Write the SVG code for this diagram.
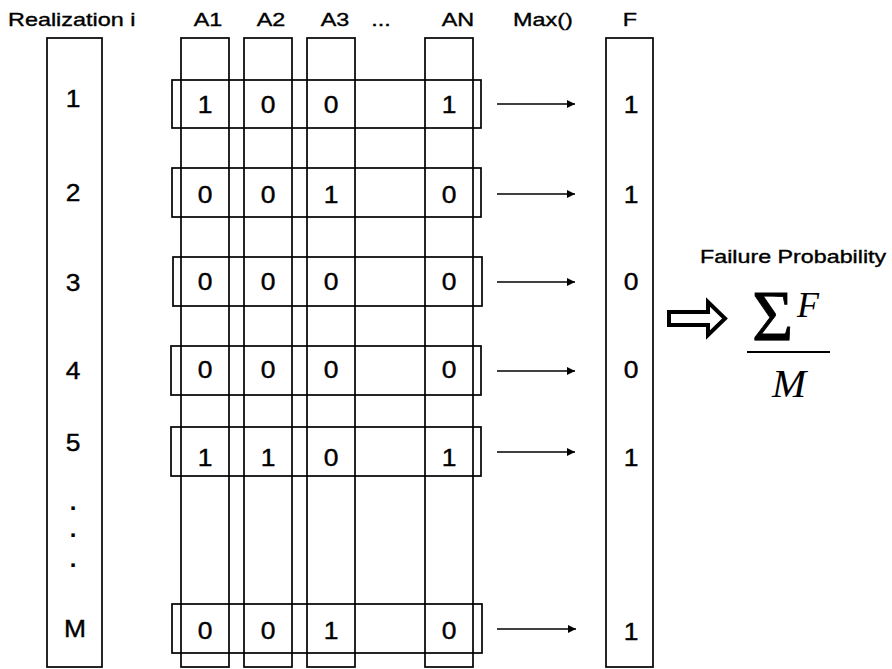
<svg xmlns="http://www.w3.org/2000/svg" width="892" height="669" viewBox="0 0 892 669">
<defs>
<marker id="ah" viewBox="0 0 8 8" refX="8" refY="4" markerWidth="8" markerHeight="8" markerUnits="userSpaceOnUse" orient="auto"><path d="M0,0 L8,4 L0,8 z" fill="#000"/></marker>
</defs>
<style>
.box{fill:none;stroke:#000;stroke-width:1.7}
.hd{font-family:"Liberation Sans",Arial,sans-serif;font-size:18px;fill:#000;stroke:#000;stroke-width:0.35;text-anchor:middle}
.v{font-family:"Liberation Sans",Arial,sans-serif;font-size:24px;fill:#000;stroke:#000;stroke-width:0.4;text-anchor:middle}
.dot{font-family:"Liberation Sans",Arial,sans-serif;font-size:24px;font-weight:bold;fill:#000;text-anchor:middle}
.con{stroke:#000;stroke-width:1.7;fill:none;marker-end:url(#ah)}
.math{font-family:"Liberation Serif","Times New Roman",serif;fill:#000}
</style>
<rect width="892" height="669" fill="#fff"/>

<g id="headers">
<text class="hd" style="text-anchor:start" transform="translate(8,26) scale(1.3,1)">Realization i</text>
<text class="hd" transform="translate(208,26) scale(1.3,1)">A1</text>
<text class="hd" transform="translate(271,26) scale(1.3,1)">A2</text>
<text class="hd" transform="translate(335,26) scale(1.3,1)">A3</text>
<text class="hd" transform="translate(381,26) scale(1.3,1)">...</text>
<text class="hd" transform="translate(458,26) scale(1.3,1)">AN</text>
<text class="hd" transform="translate(543,26) scale(1.3,1)">Max()</text>
<text class="hd" transform="translate(630,26) scale(1.3,1)">F</text>
</g>

<g id="col-realization">
<rect class="box" x="47" y="38" width="55" height="629"/>
<text class="v" transform="translate(73,107) scale(1.1,1)">1</text>
<text class="v" transform="translate(73,201) scale(1.1,1)">2</text>
<text class="v" transform="translate(73,291) scale(1.1,1)">3</text>
<text class="v" transform="translate(73,379) scale(1.1,1)">4</text>
<text class="v" transform="translate(73,451) scale(1.1,1)">5</text>
<text class="dot" transform="translate(73,510)">.</text>
<text class="dot" transform="translate(73,537)">.</text>
<text class="dot" transform="translate(73,567)">.</text>
<text class="v" transform="translate(75,637) scale(1.1,1)">M</text>
</g>

<g id="col-A1"><rect class="box" x="181" y="38" width="48" height="629"/></g>
<g id="col-A2"><rect class="box" x="244" y="38" width="48" height="629"/></g>
<g id="col-A3"><rect class="box" x="307" y="38" width="48" height="629"/></g>
<g id="col-AN"><rect class="box" x="425" y="38" width="48" height="629"/></g>

<g id="row-1">
<rect class="box" x="172" y="80" width="309" height="48"/>
<text class="v" transform="translate(205,113) scale(1.1,1)">1</text>
<text class="v" transform="translate(268,113) scale(1.1,1)">0</text>
<text class="v" transform="translate(331,113) scale(1.1,1)">0</text>
<text class="v" transform="translate(449,113) scale(1.1,1)">1</text>
</g>
<g id="row-2">
<rect class="box" x="172" y="168" width="309" height="49"/>
<text class="v" transform="translate(205,203) scale(1.1,1)">0</text>
<text class="v" transform="translate(268,203) scale(1.1,1)">0</text>
<text class="v" transform="translate(331,203) scale(1.1,1)">1</text>
<text class="v" transform="translate(449,203) scale(1.1,1)">0</text>
</g>
<g id="row-3">
<rect class="box" x="173" y="257" width="309" height="49"/>
<text class="v" transform="translate(205,290) scale(1.1,1)">0</text>
<text class="v" transform="translate(268,290) scale(1.1,1)">0</text>
<text class="v" transform="translate(331,290) scale(1.1,1)">0</text>
<text class="v" transform="translate(449,290) scale(1.1,1)">0</text>
</g>
<g id="row-4">
<rect class="box" x="171" y="346" width="310" height="49"/>
<text class="v" transform="translate(205,378) scale(1.1,1)">0</text>
<text class="v" transform="translate(268,378) scale(1.1,1)">0</text>
<text class="v" transform="translate(331,378) scale(1.1,1)">0</text>
<text class="v" transform="translate(449,378) scale(1.1,1)">0</text>
</g>
<g id="row-5">
<rect class="box" x="171" y="427" width="310" height="49"/>
<text class="v" transform="translate(205,466) scale(1.1,1)">1</text>
<text class="v" transform="translate(268,466) scale(1.1,1)">1</text>
<text class="v" transform="translate(331,466) scale(1.1,1)">0</text>
<text class="v" transform="translate(449,466) scale(1.1,1)">1</text>
</g>
<g id="row-M">
<rect class="box" x="172" y="604" width="310" height="49"/>
<text class="v" transform="translate(205,639) scale(1.1,1)">0</text>
<text class="v" transform="translate(268,639) scale(1.1,1)">0</text>
<text class="v" transform="translate(331,639) scale(1.1,1)">1</text>
<text class="v" transform="translate(449,639) scale(1.1,1)">0</text>
</g>

<g id="col-F">
<rect class="box" x="606" y="38" width="47" height="629"/>
<text class="v" transform="translate(631,113) scale(1.1,1)">1</text>
<text class="v" transform="translate(631,203) scale(1.1,1)">1</text>
<text class="v" transform="translate(631,290) scale(1.1,1)">0</text>
<text class="v" transform="translate(631,378) scale(1.1,1)">0</text>
<text class="v" transform="translate(631,466) scale(1.1,1)">1</text>
<text class="v" transform="translate(631,640) scale(1.1,1)">1</text>
</g>

<g id="connectors">
<line class="con" x1="497" y1="104" x2="575" y2="104"/>
<line class="con" x1="497" y1="194" x2="575" y2="194"/>
<line class="con" x1="497" y1="282" x2="575" y2="282"/>
<line class="con" x1="497" y1="371" x2="575" y2="371"/>
<line class="con" x1="497" y1="452" x2="575" y2="452"/>
<line class="con" x1="497" y1="629" x2="576" y2="629"/>
<path d="M669,312 L708,312 L708,302 L725,318.5 L708,335 L708,325 L669,325 Z" fill="#fff" stroke="#000" stroke-width="4" stroke-linejoin="miter"/>
</g>

<g id="result">
<text class="hd" style="text-anchor:start;font-size:17.5px" transform="translate(700,263) scale(1.33,1)">Failure Probability</text>
<text class="math" x="752" y="340" font-size="71" stroke="#000" stroke-width="0.8">Σ</text>
<text class="math" x="797" y="317" font-size="36" font-style="italic">F</text>
<line x1="747" y1="352" x2="830" y2="352" stroke="#000" stroke-width="2"/>
<text class="math" x="789" y="397" font-size="41" font-style="italic" text-anchor="middle">M</text>
</g>
</svg>
